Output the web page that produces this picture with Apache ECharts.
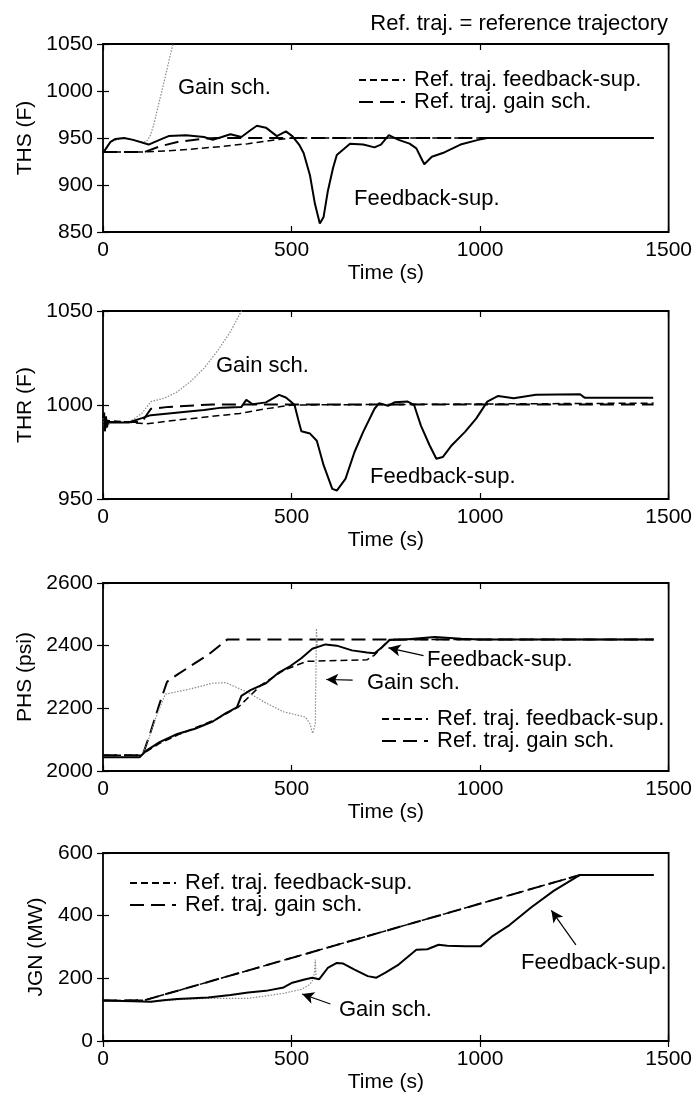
<!DOCTYPE html>
<html><head><meta charset="utf-8">
<script src="https://cdn.jsdelivr.net/npm/echarts@6/dist/echarts.min.js"></script>
<style>html,body{margin:0;padding:0;background:#fff}#c{width:695px;height:1100px}</style>
</head><body><div id="c"></div>
<script>
// ---------- DATA (time s, value) ----------
const X_TICKS = [0, 500, 1000, 1500];

// Panel 1: THS (F)
const THS_FEEDBACK = [[0,934],[10,940],[20,946],[33,949],[56,950],[80,948],[121,943],[150,948],[174,952],[220,953],[268,951],[291,948],[315,951],[338,954],[367,951],[390,958],[408,963],[432,961],[461,952],[485,957],[502,952],[520,943],[532,934],[549,910],[562,880],[575,859],[585,866],[596,893],[610,918],[620,932],[655,944],[690,943],[720,940],[737,943],[758,953],[784,948],[813,944],[831,939],[842,930],[852,922],[872,930],[901,934],[948,943],[995,948],[1019,950],[1460,950]];
const THS_GAIN = [[0,934],[20,946],[56,950],[100,946],[115,946],[125,952],[135,965],[150,990],[165,1015],[180,1041],[192,1060]];
const THS_REF_FB = [[0,935],[100,935],[200,937],[315,941],[385,944],[455,948],[500,950],[1460,950]];
const THS_REF_GAIN = [[0,935],[110,935],[150,941],[200,946],[260,949],[300,950],[1460,950]];

// Panel 2: THR (F)
const THR_FEEDBACK = [[0,993],[3,996],[5,986],[8,994],[10,988],[14,991],[21,990.7],[68,990.7],[103,993],[127,994.6],[174,995.5],[220,996.4],[268,997.3],[315,998.6],[367,999],[380,1002.7],[397,1000.4],[432,1001.4],[467,1005.4],[485,1004],[497,1002],[508,1000],[518,992],[526,986],[549,984.8],[567,981],[585,968],[608,955.4],[620,954.5],[643,960.7],[667,975],[690,985.7],[720,998],[732,1000.9],[756,999.6],[773,1001.4],[808,1001.8],[825,1000],[843,989],[866,978.6],[884,971.4],[901,972.3],[925,978.6],[960,985.7],[990,992.9],[1019,1001.8],[1048,1004.8],[1089,1003.6],[1148,1005.4],[1265,1005.7],[1277,1003.9],[1459,1003.9]];
const THR_GAIN = [[0,993],[5,987],[21,990.7],[68,990.7],[103,995.5],[127,1001.8],[162,1003.6],[197,1007],[232,1012.5],[268,1019.6],[303,1028.6],[338,1039],[367,1050],[375,1053]];
const THR_REF_FB = [[0,992],[115,990],[197,992],[362,995.5],[432,998],[502,1000],[1460,1001]];
const THR_REF_GAIN = [[0,991],[103,991],[127,998],[174,999],[291,1000.3],[1460,1000.3]];

// Panel 3: PHS (psi)
const PHS_FEEDBACK = [[0,2044],[97,2044],[115,2065],[150,2092],[197,2118],[244,2135],[291,2158],[326,2185],[355,2203],[367,2240],[391,2258],[432,2280],[467,2315],[497,2335],[526,2360],[555,2390],[590,2404],[620,2400],[660,2385],[700,2378],[720,2376],[740,2395],[760,2418],[800,2420],[880,2428],[950,2422],[1000,2420],[1460,2420]];
const PHS_GAIN = [[0,2044],[100,2046],[115,2080],[140,2170],[165,2245],[232,2262],[290,2280],[326,2282],[385,2250],[432,2217],[479,2189],[537,2172],[549,2150],[556,2120],[563,2150],[566,2455],[568,2400]];
const PHS_REF_FB = [[0,2050],[100,2050],[150,2088],[200,2116],[300,2165],[360,2205],[420,2275],[480,2322],[540,2350],[700,2355],[720,2370],[760,2420],[1460,2420]];
const PHS_REF_GAIN = [[0,2050],[105,2050],[125,2120],[150,2215],[170,2285],[200,2310],[280,2372],[330,2420],[1460,2420]];

// Panel 4: JGN (MW)
const JGN_FEEDBACK = [[0,129],[80,127],[127,125],[160,130],[197,134],[279,139],[338,147],[385,155],[432,160],[479,171],[502,186],[537,197],[555,202],[573,197],[596,233],[620,249],[637,247],[667,228],[702,207],[725,202],[749,218],[784,244],[831,291],[860,293],[890,307],[913,304],[960,302],[1001,302],[1031,333],[1078,370],[1136,427],[1195,479],[1265,530],[1460,530]];
const JGN_GAIN = [[0,129],[80,127],[127,125],[197,132],[279,136],[385,136],[479,152],[526,165],[549,181],[556,195],[561,218],[563,260],[565,205]];
const JGN_REF_FB = [[0,129],[110,130],[1265,530],[1460,530]];
const JGN_REF_GAIN = [[0,129],[110,130],[1265,530],[1460,530]];

// Y axes
const Y_THS = {min:850, max:1050, interval:50, name:'THS (F)'};
const Y_THR = {min:950, max:1050, interval:50, name:'THR (F)'};
const Y_PHS = {min:2000, max:2600, interval:200, name:'PHS (psi)'};
const Y_JGN = {min:0, max:600, interval:200, name:'JGN (MW)'};

// Annotation arrows [tail, tip] in data coordinates
const PHS_ARROW_FB = [[850,2368],[757,2393]];
const PHS_ARROW_GAIN = [[662,2290],[592,2292]];
const JGN_ARROW_GAIN = [[603,118],[528,150]];
const JGN_ARROW_FB = [[1254,307],[1189,417]];

// ---------- LAYOUT / STYLE ----------
const FONT = '"Liberation Sans", Arial, Helvetica, sans-serif';
const FS = 21, FS_TXT = 22;
const NAME_FB = 'Feedback-sup.', NAME_GAIN = 'Gain sch.';
const NAME_RFB = 'Ref. traj. feedback-sup.', NAME_RGAIN = 'Ref. traj. gain sch.';

const PANELS = [
  {top:44, y:Y_THS, fb:THS_FEEDBACK, gain:THS_GAIN, rfb:THS_REF_FB, rgain:THS_REF_GAIN, legend:{left:358, top:69}, arrowsFb:[], arrowsGain:[]},
  {top:311, y:Y_THR, fb:THR_FEEDBACK, gain:THR_GAIN, rfb:THR_REF_FB, rgain:THR_REF_GAIN, legend:null, arrowsFb:[], arrowsGain:[]},
  {top:583, y:Y_PHS, fb:PHS_FEEDBACK, gain:PHS_GAIN, rfb:PHS_REF_FB, rgain:PHS_REF_GAIN, legend:{left:381, top:708}, arrowsFb:[PHS_ARROW_FB], arrowsGain:[PHS_ARROW_GAIN]},
  {top:853, y:Y_JGN, fb:JGN_FEEDBACK, gain:JGN_GAIN, rfb:JGN_REF_FB, rgain:JGN_REF_GAIN, legend:{left:129, top:872}, arrowsFb:[JGN_ARROW_FB], arrowsGain:[JGN_ARROW_GAIN]}
];
const PH = 188, LEFT = 103, RIGHT = 26;

const TEXTS = [
  {x:668, y:13, text:'Ref. traj. = reference trajectory', align:'right'},
  {x:178, y:77, text:NAME_GAIN}, {x:354, y:188, text:NAME_FB},
  {x:216, y:355, text:NAME_GAIN}, {x:370, y:466, text:NAME_FB},
  {x:427, y:649, text:NAME_FB}, {x:367, y:672, text:NAME_GAIN},
  {x:339, y:999, text:NAME_GAIN}, {x:521, y:952, text:NAME_FB}
];

const grids=[], xAxes=[], yAxes=[], series=[], legends=[];
const tick = {inside:true, length:6, lineStyle:{color:'#000', width:1.2}};
const lbl = {color:'#000', fontSize:FS, fontFamily:FONT};
const plain = v => String(v);

function arrowLine(list){
  if(!list.length) return undefined;
  return {silent:true, symbol:['none','arrow'], symbolSize:[9,12], animation:false,
    lineStyle:{color:'#000', width:1.2, type:'solid'}, label:{show:false},
    data:list.map(a=>[{coord:a[0]},{coord:a[1]}])};
}

PANELS.forEach((p,i)=>{
  grids.push({left:LEFT, right:RIGHT, top:p.top, height:PH, show:true, borderColor:'#000', borderWidth:1.8, backgroundColor:'transparent'});
  const xb = {gridIndex:i, type:'value', min:X_TICKS[0], max:X_TICKS[X_TICKS.length-1], interval:X_TICKS[1]-X_TICKS[0], splitLine:{show:false}, axisLine:{show:false}, axisTick:tick};
  xAxes.push(Object.assign({}, xb, {position:'bottom', name:'Time (s)', nameLocation:'middle', nameGap:31, nameTextStyle:lbl, axisLabel:Object.assign({margin:8, formatter:plain}, lbl)}));
  xAxes.push(Object.assign({}, xb, {position:'top', axisLabel:{show:false}}));
  const yb = {gridIndex:i, type:'value', min:p.y.min, max:p.y.max, interval:p.y.interval, splitLine:{show:false}, axisLine:{show:false}, axisTick:tick};
  yAxes.push(Object.assign({}, yb, {position:'left', name:p.y.name, nameLocation:'middle', nameRotate:90, nameGap:52, nameTextStyle:lbl, axisLabel:Object.assign({margin:10, formatter:plain}, lbl)}));
  yAxes.push(Object.assign({}, yb, {position:'right', axisLabel:{show:false}}));
  const xi = 2*i, yi = 2*i;
  series.push({name:NAME_RFB, type:'line', xAxisIndex:xi, yAxisIndex:yi, data:p.rfb, showSymbol:false, symbol:'none', itemStyle:{color:'#000'}, lineStyle:{color:'#000', width:1.5, type:[7,4]}, z:2});
  series.push({name:NAME_RGAIN, type:'line', xAxisIndex:xi, yAxisIndex:yi, data:p.rgain, showSymbol:false, symbol:'none', itemStyle:{color:'#000'}, lineStyle:{color:'#000', width:2, type:[14,7]}, z:2});
  series.push({name:NAME_GAIN, type:'line', xAxisIndex:xi, yAxisIndex:yi, data:p.gain, showSymbol:false, symbol:'none', itemStyle:{color:'#888'}, lineStyle:{color:'#8a8a8a', width:1.2, type:[1.5,1.5]}, z:3, markLine:arrowLine(p.arrowsGain)});
  series.push({name:NAME_FB, type:'line', xAxisIndex:xi, yAxisIndex:yi, data:p.fb, showSymbol:false, symbol:'none', itemStyle:{color:'#000'}, lineStyle:{color:'#000', width:2}, z:4, markLine:arrowLine(p.arrowsFb)});
  if(p.legend){
    legends.push({orient:'vertical', left:p.legend.left, top:p.legend.top, itemWidth:46, itemHeight:10, itemGap:0, padding:0,
      itemStyle:{opacity:0, color:'transparent', borderWidth:0},
      textStyle:{color:'#000', fontSize:FS_TXT, fontFamily:FONT, padding:[0,0,0,4]}, data:[NAME_RFB, NAME_RGAIN], selectedMode:false});
  }
});

const graphics = TEXTS.map(t=>({type:'text', left: t.align==='right'? undefined : t.x, right: t.align==='right'? (695-t.x) : undefined, top:t.y,
  style:{text:t.text, fill:'#000', font:FS_TXT+'px '+FONT}}));

const chart = echarts.init(document.getElementById('c'));
chart.setOption({
  animation:false, backgroundColor:'#fff',
  grid:grids, xAxis:xAxes, yAxis:yAxes, series:series, legend:legends, graphic:graphics
});
</script></body></html>
